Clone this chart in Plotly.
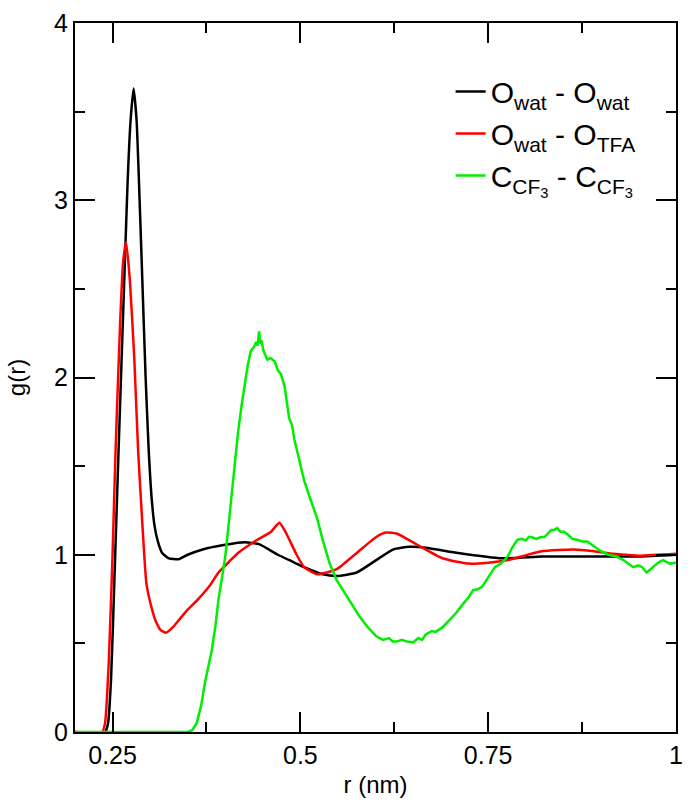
import plotly.graph_objects as go

# O_wat - O_wat
r_ww = [0.2, 0.240, 0.244, 0.248, 0.252, 0.258, 0.262, 0.266, 0.270, 0.274, 0.278, 0.282, 0.286, 0.290,
        0.294, 0.298, 0.302, 0.306, 0.310, 0.316, 0.325, 0.338, 0.35, 0.37, 0.40, 0.426, 0.445, 0.47,
        0.49, 0.505, 0.53, 0.549, 0.575, 0.601, 0.624, 0.645, 0.667, 0.71, 0.768, 0.821, 0.864, 0.908,
        0.95, 1.0]
g_ww = [0.0, 0.0, 0.05, 0.3, 0.8, 1.59, 2.1, 2.6, 3.1, 3.45, 3.63, 3.45, 3.0, 2.5,
        2.0, 1.6, 1.32, 1.16, 1.08, 1.01, 0.98, 0.975, 1.0, 1.03, 1.056, 1.07, 1.06, 1.0,
        0.96, 0.93, 0.89, 0.88, 0.90, 0.97, 1.03, 1.045, 1.04, 1.01, 0.98, 0.99, 0.99, 0.99,
        0.99, 1.0]

# O_wat - O_TFA
r_wt = [0.2, 0.236, 0.24, 0.245, 0.25, 0.254, 0.26, 0.264, 0.268, 0.273, 0.279, 0.284, 0.29, 0.295,
        0.302, 0.308, 0.314, 0.321, 0.33, 0.338, 0.35, 0.364, 0.38, 0.391, 0.405, 0.417, 0.439,
        0.461, 0.472, 0.48, 0.487, 0.495, 0.505, 0.522, 0.535, 0.549, 0.575, 0.601, 0.614, 0.628,
        0.654, 0.689, 0.724, 0.75, 0.776, 0.821, 0.864, 0.891, 0.917, 0.952, 1.0]
g_wt = [0.0, 0.0, 0.05, 0.4, 1.0, 1.59, 2.3, 2.65, 2.765, 2.55, 2.10, 1.59, 1.15, 0.84,
        0.7, 0.62, 0.575, 0.56, 0.59, 0.63, 0.69, 0.75, 0.83, 0.90, 0.96, 1.01, 1.075,
        1.13, 1.18, 1.13, 1.07, 1.0, 0.93, 0.89, 0.90, 0.92, 1.01, 1.10, 1.125, 1.12,
        1.06, 0.98, 0.95, 0.955, 0.97, 1.02, 1.03, 1.02, 1.005, 0.995, 1.005]

# C_CF3 - C_CF3
r_cc = [0.2, 0.35, 0.356, 0.362, 0.368, 0.373, 0.378, 0.382, 0.387, 0.391, 0.396, 0.40, 0.404, 0.408,
        0.412, 0.415, 0.417, 0.422, 0.426, 0.43, 0.434, 0.438, 0.441, 0.443, 0.445, 0.447, 0.448,
        0.451, 0.454, 0.456, 0.46, 0.466, 0.47, 0.474, 0.479, 0.482, 0.485, 0.489, 0.492, 0.496,
        0.50, 0.505, 0.512, 0.517, 0.522, 0.53, 0.539, 0.548, 0.558, 0.568, 0.579, 0.59, 0.601,
        0.61, 0.618, 0.623, 0.628, 0.635, 0.642, 0.65, 0.657, 0.662, 0.667, 0.675, 0.68, 0.689,
        0.698, 0.707, 0.716, 0.724, 0.73, 0.736, 0.742, 0.75, 0.759, 0.767, 0.776, 0.782, 0.789,
        0.795, 0.8, 0.804, 0.808, 0.814, 0.82, 0.825, 0.83, 0.834, 0.838, 0.842, 0.846, 0.851,
        0.857, 0.862, 0.868, 0.875, 0.882, 0.89, 0.9, 0.91, 0.921, 0.93, 0.936, 0.943, 0.95,
        0.955, 0.961, 0.966, 0.972, 0.978, 0.983, 0.987, 0.992, 1.0]
g_cc = [0.0, 0.0, 0.01, 0.05, 0.15, 0.28, 0.38, 0.46, 0.6, 0.75, 0.88, 0.99, 1.15, 1.31,
        1.47, 1.59, 1.69, 1.85, 1.97, 2.07, 2.15, 2.17, 2.2, 2.18, 2.26, 2.19, 2.21,
        2.15, 2.12, 2.1, 2.11, 2.09, 2.04, 2.02, 1.95, 1.85, 1.77, 1.73, 1.65, 1.58,
        1.50, 1.42, 1.33, 1.27, 1.21, 1.08, 0.95, 0.86, 0.79, 0.72, 0.65, 0.59, 0.54,
        0.52, 0.53, 0.51, 0.51, 0.52, 0.51, 0.505, 0.53, 0.52, 0.55, 0.57, 0.565, 0.59,
        0.63, 0.67, 0.72, 0.76, 0.8, 0.805, 0.82, 0.87, 0.93, 0.95, 0.99, 1.04, 1.085,
        1.09, 1.08, 1.1, 1.10, 1.09, 1.1, 1.10, 1.12, 1.14, 1.14, 1.15, 1.13, 1.13,
        1.11, 1.09, 1.085, 1.075, 1.075, 1.05, 1.02, 1.0, 0.99, 0.97, 0.95, 0.93, 0.94,
        0.93, 0.9, 0.92, 0.94, 0.96, 0.97, 0.96, 0.95, 0.955]

names = ["O<sub>wat</sub> - O<sub>wat</sub>",
         "O<sub>wat</sub> - O<sub>TFA</sub>",
         "C<sub>CF<sub>3</sub></sub> - C<sub>CF<sub>3</sub></sub>"]

x_ticks = [0.25, 0.5, 0.75, 1.0]
x_ticklabels = ["0.25", "0.5", "0.75", "1"]
y_ticks = [0, 1, 2, 3, 4]

FONT = "Liberation Sans, Arial, sans-serif"

fig = go.Figure()
fig.add_trace(go.Scatter(x=r_ww, y=g_ww, mode="lines", name=names[0],
                         line=dict(color="#000000", width=2.5, shape="spline", smoothing=0.5)))
fig.add_trace(go.Scatter(x=r_wt, y=g_wt, mode="lines", name=names[1],
                         line=dict(color="#ff0000", width=2.5, shape="spline", smoothing=0.5)))
fig.add_trace(go.Scatter(x=r_cc, y=g_cc, mode="lines", name=names[2],
                         line=dict(color="#00ee00", width=2.5)))

axis_common = dict(showline=True, linecolor="black", linewidth=2, mirror="allticks",
                   ticks="inside", ticklen=20, tickwidth=2, tickcolor="black",
                   showgrid=False, zeroline=False,
                   tickfont=dict(family=FONT, size=25, color="black"))

fig.update_xaxes(range=[0.2, 1.0], tickvals=x_ticks, ticktext=x_ticklabels,
                 title=dict(text="r (nm)", font=dict(family=FONT, size=24, color="black"), standoff=8),
                 minor=dict(dtick=0.125, tick0=0.25, ticks="inside", ticklen=10, tickwidth=2, tickcolor="black"),
                 **axis_common)
fig.update_yaxes(range=[0, 4], tickvals=y_ticks,
                 title=dict(text="g(r)", font=dict(family=FONT, size=24, color="black"), standoff=22),
                 minor=dict(dtick=0.5, ticks="inside", ticklen=10, tickwidth=2, tickcolor="black"),
                 **axis_common)

fig.update_layout(
    width=692, height=803,
    margin=dict(l=75, r=9, t=22, b=71),
    paper_bgcolor="white", plot_bgcolor="white",
    font=dict(family=FONT, color="black"),
    showlegend=True,
    legend=dict(x=0.625, y=0.94, xanchor="left", yanchor="top",
                bgcolor="rgba(0,0,0,0)", borderwidth=0,
                font=dict(family=FONT, size=30, color="black"),
                itemwidth=30, tracegroupgap=0),
)

fig.write_html("out.html")
